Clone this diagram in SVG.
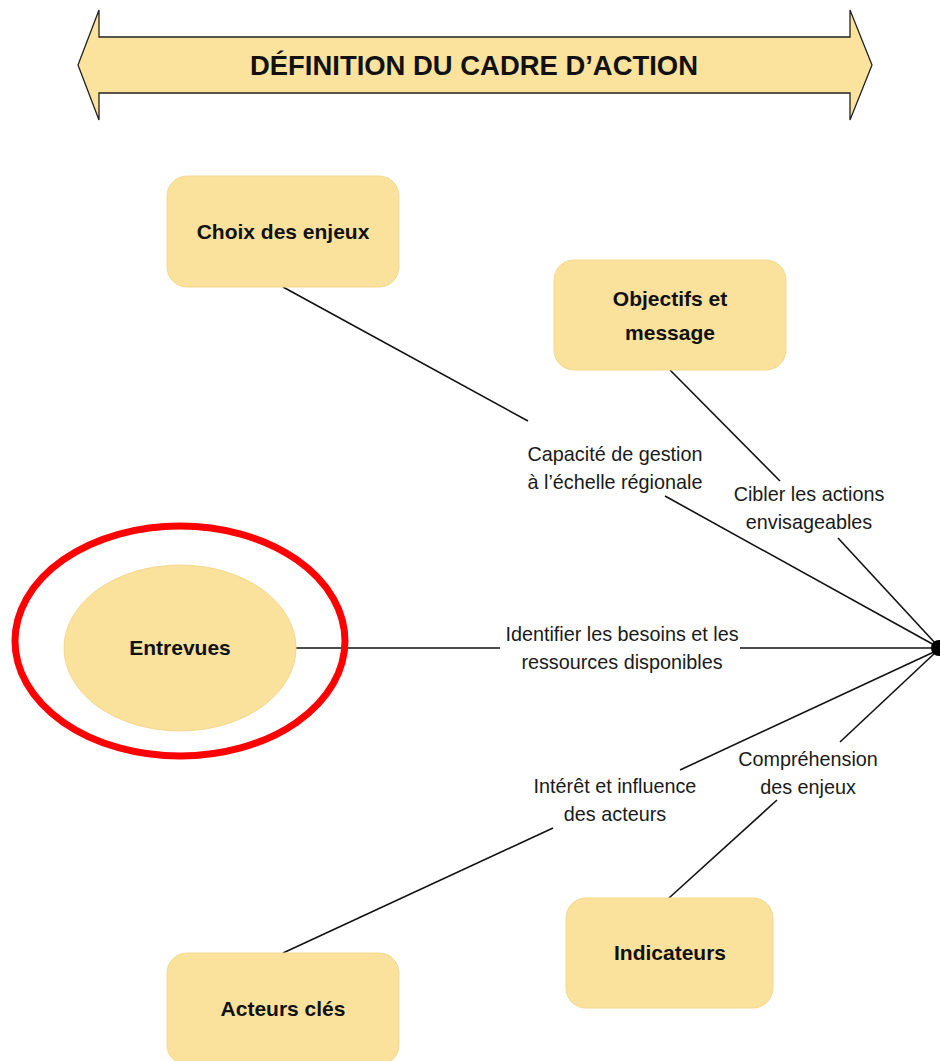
<svg xmlns="http://www.w3.org/2000/svg" width="940" height="1061" viewBox="0 0 940 1061">
<style>
.node{fill:#FAE19C;stroke:#F3D990;stroke-width:1}
.nl{font-family:"Liberation Sans",Arial,sans-serif;font-weight:bold;font-size:21px;fill:#111;text-anchor:middle}
.el{font-family:"Liberation Sans",Arial,sans-serif;font-size:19.8px;fill:#1a1a1a;text-anchor:middle}
.c{stroke:#111;stroke-width:1.6;fill:none}
</style>
<rect width="940" height="1061" fill="#fff"/>
<g id="banner">
<polygon points="78,65 99,10 99,37 850,37 850,10 872,65 850,120 850,93 99,93 99,120" fill="#FBE29D" stroke="#222" stroke-width="1.3" stroke-linejoin="miter"/>
<text x="474" y="75" font-family="'Liberation Sans',Arial,sans-serif" font-weight="bold" font-size="28" fill="#111" text-anchor="middle" textLength="448" lengthAdjust="spacingAndGlyphs">DÉFINITION DU CADRE D’ACTION</text>
</g>
<g id="connectors">
<line class="c" x1="283" y1="287" x2="528" y2="421"/>
<line class="c" x1="665" y1="496" x2="936" y2="646"/>
<line class="c" x1="670" y1="370" x2="780" y2="481"/>
<line class="c" x1="838" y1="538" x2="936" y2="644"/>
<line class="c" x1="296" y1="648" x2="500" y2="648"/>
<line class="c" x1="740" y1="648" x2="936" y2="648"/>
<line class="c" x1="283" y1="953" x2="553" y2="828"/>
<line class="c" x1="680" y1="770" x2="936" y2="651"/>
<line class="c" x1="669" y1="898" x2="777" y2="800"/>
<line class="c" x1="840" y1="742" x2="936" y2="652"/>
<circle cx="939" cy="648" r="8" fill="#000"/>
<text class="el" x="615" y="461">Capacité de gestion</text>
<text class="el" x="615" y="489">à l’échelle régionale</text>
<text class="el" x="809" y="501">Cibler les actions</text>
<text class="el" x="809" y="529">envisageables</text>
<text class="el" x="622" y="641">Identifier les besoins et les</text>
<text class="el" x="622" y="669">ressources disponibles</text>
<text class="el" x="615" y="793">Intérêt et influence</text>
<text class="el" x="615" y="821">des acteurs</text>
<text class="el" x="808" y="766">Compréhension</text>
<text class="el" x="808" y="794">des enjeux</text>
</g>
<g id="choix">
<rect class="node" x="167" y="176" width="232" height="111" rx="20"/>
<text class="nl" x="283" y="239">Choix des enjeux</text>
</g>
<g id="objectifs">
<rect class="node" x="554" y="260" width="232" height="110" rx="20"/>
<text class="nl" x="670" y="306">Objectifs et</text>
<text class="nl" x="670" y="340">message</text>
</g>
<g id="entrevues">
<ellipse class="node" cx="180" cy="648" rx="116" ry="83"/>
<text class="nl" x="180" y="655">Entrevues</text>
<ellipse cx="180" cy="641" rx="165" ry="115" fill="none" stroke="#F00" stroke-width="7"/>
</g>
<g id="indicateurs">
<rect class="node" x="566" y="898" width="207" height="110" rx="20"/>
<text class="nl" x="670" y="960">Indicateurs</text>
</g>
<g id="acteurs">
<rect class="node" x="167" y="953" width="232" height="112" rx="20"/>
<text class="nl" x="283" y="1016">Acteurs clés</text>
</g>
</svg>
